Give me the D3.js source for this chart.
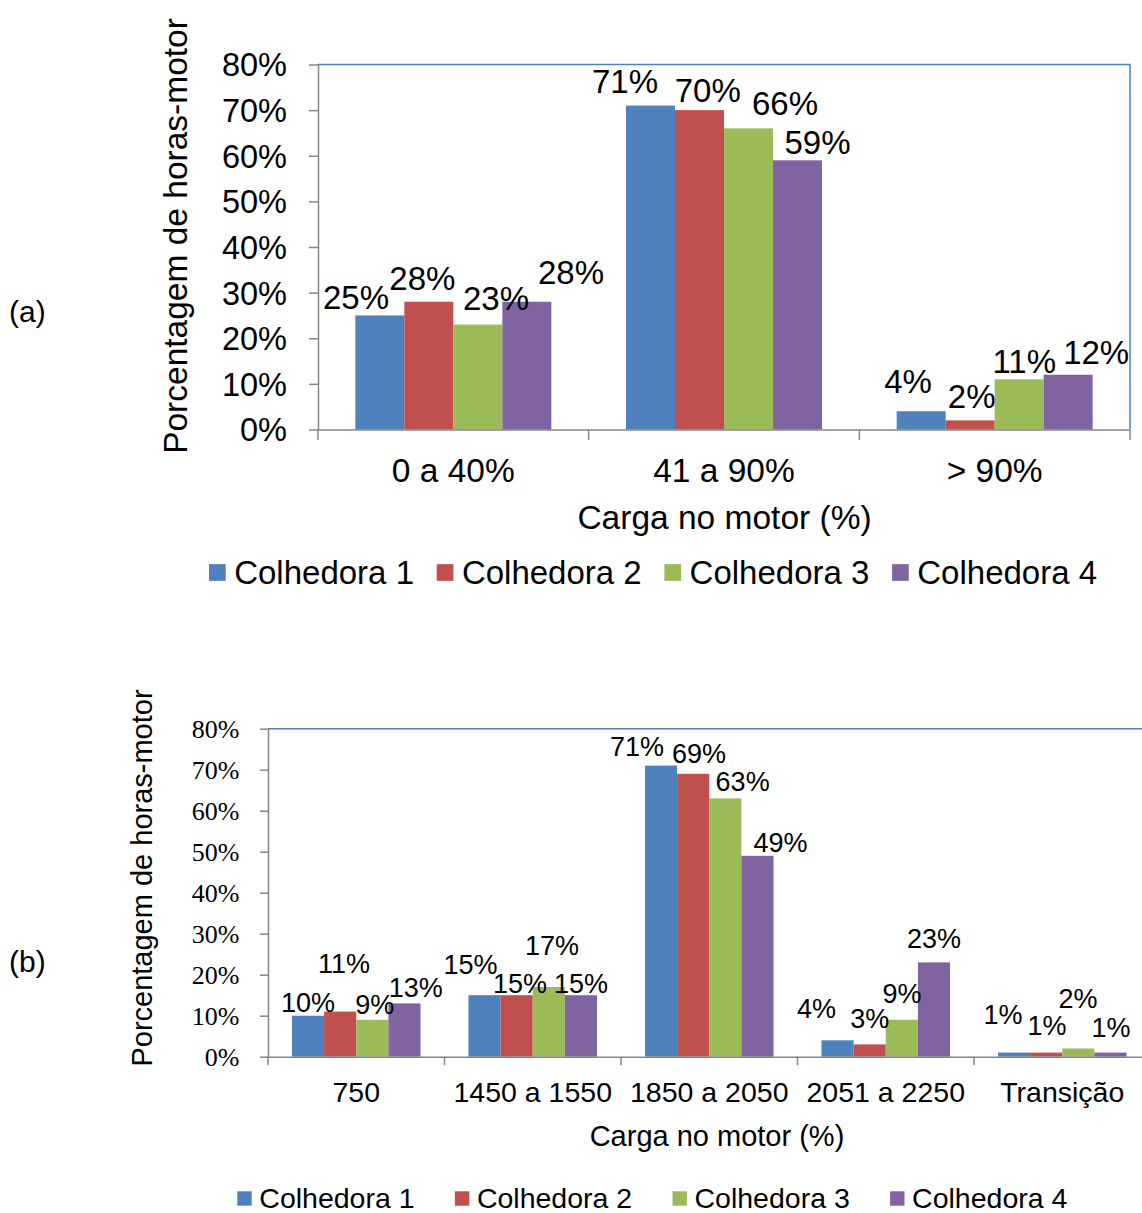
<!DOCTYPE html>
<html>
<head>
<meta charset="utf-8">
<script src="https://cdn.jsdelivr.net/npm/d3@7"></script>
<style>
  html, body { margin: 0; padding: 0; background: #fff; }
  svg { display: block; }
</style>
</head>
<body>
<svg id="chart" width="1142" height="1213"></svg>
<script>
// ---- data ----
const seriesNames = ["Colhedora 1", "Colhedora 2", "Colhedora 3", "Colhedora 4"];
const yTicks = [0, 10, 20, 30, 40, 50, 60, 70, 80];

// (a) share of engine hours by engine load range
const categoriesA = ["0 a 40%", "41 a 90%", "> 90%"];
const colhedora1A = [25, 71, 4];
const colhedora2A = [28, 70, 2];
const colhedora3A = [23, 66, 11];
const colhedora4A = [28, 59, 12];

// (b) share of engine hours by engine speed range
const categoriesB = ["750", "1450 a 1550", "1850 a 2050", "2051 a 2250", "Transição"];
const colhedora1B = [10, 15, 71, 4, 1];
const colhedora2B = [11, 15, 69, 3, 1];
const colhedora3B = [9, 17, 63, 9, 2];
const colhedora4B = [13, 15, 49, 23, 1];

// ---- styling / layout ----
const seriesColors = ["#4F81BD", "#C0504D", "#9BBB59", "#8064A2"];
const axisGray = "#868686";
const frameBlue = "#4F81BD";
const sans = "'Liberation Sans', Arial, Helvetica, sans-serif";
const serif = "'Liberation Serif', 'Times New Roman', serif";

// hand-placed value labels: [dx, dy] from the top centre of each bar (series x category)
const labelShiftA = [
  [[-23.8, -6.1], [-25.5, -12.6], [-13.1, -18.5]],
  [[-6.5, -11.8], [8.3, -8.4], [1.5, -12.4]],
  [[18.2, -14.6], [36.5, -13.4], [5.1, -6.3]],
  [[44.2, -17.4], [20, -6.3], [28, -10.8]]
];
const labelShiftB = [
  [[0, -4], [-14, -21.2], [-24, -9.6], [-21, -22.6], [-11, -28.6]],
  [[3.8, -38.6], [3.3, -2.2], [5.8, -11.1], [0, -16.4], [0.8, -17.6]],
  [[2.4, -5.8], [3.2, -32], [17.3, -7.7], [0.2, -16.5], [-0.3, -40.2]],
  [[11.2, -6.4], [0, -2.2], [23.1, -3.5], [0, -14.4], [0.5, -15.9]]
];

const svg = d3.select("#chart");
svg.append("rect").attr("width", 1142).attr("height", 1213).attr("fill", "#fff");

function drawPanel(p) {
  const g = svg.append("g");

  const x = d3.scaleBand().domain(p.categories).range([p.left, p.right]).padding(0);
  const xs = d3.scaleBand().domain(d3.range(p.series.length))
    .range([0, x.bandwidth()]).paddingInner(0).paddingOuter(p.outerPad);
  const y = d3.scaleLinear().domain([0, 80]).range([p.bottom, p.top]);

  // plot frame (top and right edges)
  g.append("path")
    .attr("d", `M${p.left},${p.top}H${p.right}V${p.bottom}`)
    .attr("fill", "none").attr("stroke", frameBlue).attr("stroke-width", 1.5);

  // bars
  p.series.forEach((vals, s) => {
    g.append("g").selectAll("rect").data(vals).join("rect")
      .attr("x", (d, i) => x(p.categories[i]) + xs(s))
      .attr("y", d => y(d))
      .attr("width", xs.bandwidth())
      .attr("height", d => y(0) - y(d))
      .attr("fill", seriesColors[s]);
  });

  // y axis
  const ya = g.append("g").attr("transform", `translate(${p.left},0)`)
    .call(d3.axisLeft(y).tickValues(yTicks).tickFormat(d => d + "%")
      .tickSize(p.yTickLen).tickSizeOuter(0).tickPadding(p.yTickPad));
  ya.select(".domain").attr("stroke", axisGray).attr("stroke-width", 1.5);
  ya.selectAll(".tick line").attr("stroke", axisGray).attr("stroke-width", 1.5);
  ya.selectAll(".tick text")
    .attr("font-family", p.tickFont).attr("font-size", p.tickFontSize)
    .attr("fill", "#000").attr("dy", "0.35em");

  // x axis: labels at band centres, tick marks on band boundaries
  const xa = g.append("g").attr("transform", `translate(0,${p.bottom})`)
    .call(d3.axisBottom(x).tickSize(0).tickSizeOuter(0));
  xa.select(".domain").attr("stroke", axisGray).attr("stroke-width", 1.5);
  xa.selectAll(".tick text")
    .attr("y", p.xLabelOffset).attr("dy", null)
    .attr("font-family", sans).attr("font-size", p.xFontSize).attr("fill", "#000");
  const bounds = p.categories.map(c => x(c)).concat([p.right]);
  g.append("g").selectAll("line").data(bounds).join("line")
    .attr("x1", d => d).attr("x2", d => d)
    .attr("y1", p.bottom).attr("y2", p.bottom + p.xTickLen)
    .attr("stroke", axisGray).attr("stroke-width", 1.5);

  // value labels
  p.series.forEach((vals, s) => {
    g.append("g").selectAll("text").data(vals).join("text")
      .attr("x", (d, i) => x(p.categories[i]) + xs(s) + xs.bandwidth() / 2 + p.shift[s][i][0])
      .attr("y", (d, i) => y(d) + p.shift[s][i][1])
      .attr("text-anchor", "middle")
      .attr("font-family", sans).attr("font-size", p.labelFontSize).attr("fill", "#000")
      .text(d => d + "%");
  });

  // axis titles
  g.append("text")
    .attr("transform", `translate(${p.yTitleX},${p.yTitleY}) rotate(-90)`)
    .attr("text-anchor", "middle")
    .attr("font-family", sans).attr("font-size", p.titleFontSize).attr("fill", "#000")
    .text("Porcentagem de horas-motor");
  g.append("text")
    .attr("x", p.xTitleX).attr("y", p.xTitleY)
    .attr("text-anchor", "middle")
    .attr("font-family", sans).attr("font-size", p.titleFontSize).attr("fill", "#000")
    .text("Carga no motor (%)");

  // legend
  const lg = g.append("g").selectAll("g").data(seriesNames).join("g")
    .attr("transform", (d, i) => `translate(${p.legendX + i * p.legendStep},${p.legendY})`);
  lg.append("rect")
    .attr("x", 0).attr("y", -p.legendBox / 2)
    .attr("width", p.legendBox).attr("height", p.legendBox)
    .attr("fill", (d, i) => seriesColors[i]);
  lg.append("text")
    .attr("x", p.legendBox + p.legendGap).attr("y", p.legendBaseline)
    .attr("font-family", sans).attr("font-size", p.legendFontSize).attr("fill", "#000")
    .text(d => d);

  // panel marker
  svg.append("text")
    .attr("x", 9).attr("y", p.markerY)
    .attr("font-family", sans).attr("font-size", 30).attr("fill", "#000")
    .text(p.marker);
}

drawPanel({
  categories: categoriesA,
  series: [colhedora1A, colhedora2A, colhedora3A, colhedora4A],
  shift: labelShiftA,
  left: 318, right: 1130, top: 64.5, bottom: 429.5,
  outerPad: 0.762,
  yTickLen: 9, yTickPad: 22, tickFont: sans, tickFontSize: 32.5,
  xLabelOffset: 52.5, xFontSize: 33.5, xTickLen: 10.5,
  labelFontSize: 33,
  titleFontSize: 33.5,
  yTitleX: 187, yTitleY: 236,
  xTitleX: 724.5, xTitleY: 529,
  legendX: 209, legendStep: 227.7, legendY: 572.5, legendBox: 16.7, legendGap: 8.5,
  legendBaseline: 11.5, legendFontSize: 33,
  marker: "(a)", markerY: 322
});

drawPanel({
  categories: categoriesB,
  series: [colhedora1B, colhedora2B, colhedora3B, colhedora4B],
  shift: labelShiftB,
  left: 268, right: 1150.5, top: 728.7, bottom: 1056.7,
  outerPad: 0.745,
  yTickLen: 8, yTickPad: 20.7, tickFont: serif, tickFontSize: 26,
  xLabelOffset: 45.3, xFontSize: 28.5, xTickLen: 8.5,
  labelFontSize: 27,
  titleFontSize: 29,
  yTitleX: 152, yTitleY: 878,
  xTitleX: 717, xTitleY: 1146,
  legendX: 237.3, legendStep: 217.6, legendY: 1198.5, legendBox: 14.4, legendGap: 7.6,
  legendBaseline: 9, legendFontSize: 28.5,
  marker: "(b)", markerY: 972
});
</script>
</body>
</html>
